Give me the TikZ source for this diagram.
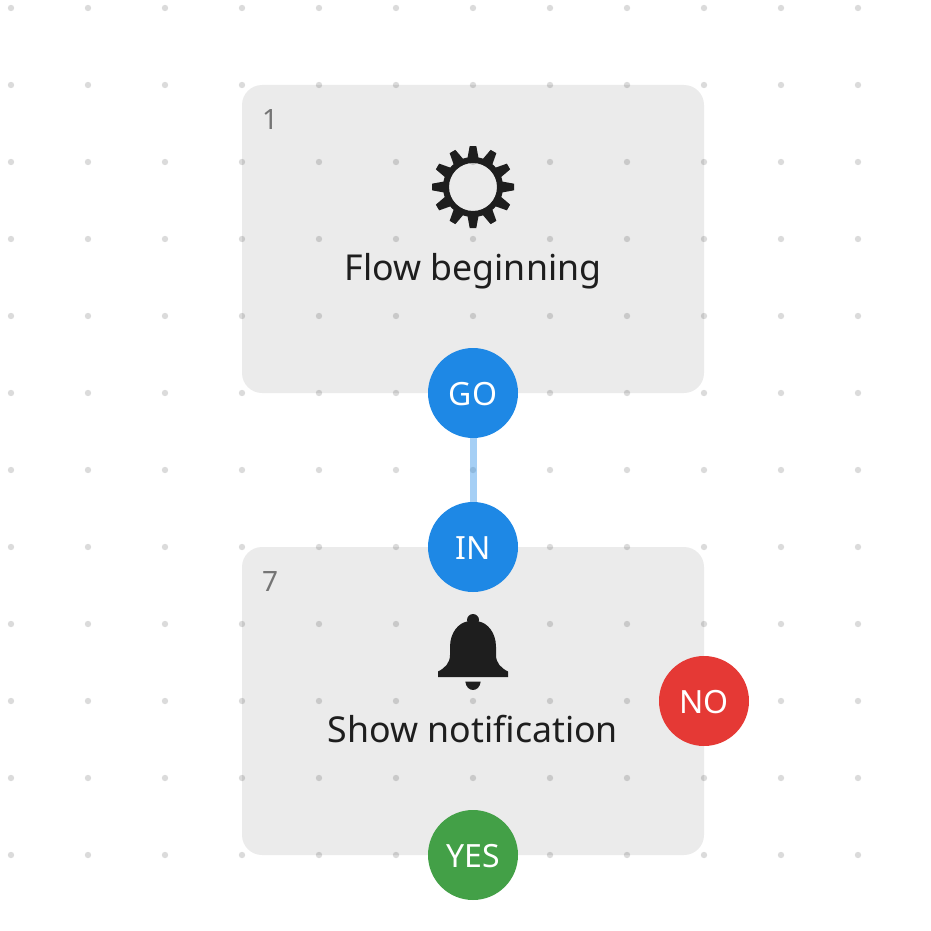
\documentclass[tikz,border=0pt]{standalone}
\usepackage{fontspec}
\setmainfont{Noto Sans}
\definecolor{cardgray}{HTML}{EBEBEB}
\definecolor{inkdark}{HTML}{1E1E1E}
\definecolor{numgray}{HTML}{757575}
\definecolor{portblue}{HTML}{1E88E5}
\definecolor{portred}{HTML}{E53935}
\definecolor{portgreen}{HTML}{43A047}
\tikzset{
  card/.style = {fill = cardgray, rounded corners = 20pt, minimum width = 462pt,
    minimum height = 308pt, inner sep = 0pt},
  griddot/.style = {fill = black, opacity = .14},
  port/.style = {circle, minimum size = 90pt, inner sep = 0pt},
  portlabel/.style = {anchor = base, text = white, inner sep = 0pt,
    font = \fontsize{32}{36}\selectfont},
  title/.style = {anchor = base, text = inkdark, inner sep = 0pt,
    font = \fontsize{35.7}{40}\selectfont},
  number/.style = {anchor = base west, text = numgray, inner sep = 0pt,
    font = \fontsize{28}{32}\selectfont},
  wire/.style = {line width = 7pt, portblue, opacity = .4},
}
\def\drawgear#1#2{%
  \begin{scope}[shift = {(#1,#2)}]
    \fill [inkdark, even odd rule] (0,0) circle (24) (0,0) circle (30);
    \foreach \ang in {0,30,...,330} {
      \fill [inkdark, rotate = \ang] (-5.5,-29) -- (-3.3,-41) -- (3.3,-41) -- (5.5,-29) -- cycle;
    }
  \end{scope}
}
\def\drawbell#1#2{%
  \begin{scope}[shift = {(#1,#2)}]
    \fill [inkdark] (0,-57) circle (6);
    \fill [inkdark]
      (-35,0) -- (-35,-5.5) .. controls (-28,-9) and (-23,-14) .. (-23,-22)
      -- (-23,-30) .. controls (-23,-45) and (-14,-54) .. (-6,-55.5)
      -- (6,-55.5) .. controls (14,-54) and (23,-45) .. (23,-30)
      -- (23,-22) .. controls (23,-14) and (28,-9) .. (35,-5.5) -- (35,0) -- cycle;
    \fill [inkdark] (-7.7,4.5) -- (7.7,4.5) .. controls (6.5,15.8) and (-6.5,15.8) .. (-7.7,4.5) -- cycle;
  \end{scope}
}
\begin{document}
\begin{tikzpicture}[x = 1pt, y = -1pt]
  \useasboundingbox (0,0) rectangle (930,931);

  % flow blocks
  \node [card] (beginCard) at (473,239) {};
  \node [card] (notifyCard) at (473,701) {};

  % background grid
  \foreach \ix in {0,...,11} {
    \foreach \iy in {0,...,11} {
      \fill [griddot] ({11+77*\ix},{8+77*\iy}) circle (3.2);
    }
  }

  \drawgear{473}{187}
  \drawbell{473}{677}

  \node [title] (beginTitle) at (473,280) {Flow beginning};
  \node [title] (notifyTitle) at (473,742) {Show notification};
  \node [number] (beginNum) at (262,129) {1};
  \node [number] (notifyNum) at (262,591) {7};

  % ports
  \node [port, fill = portblue] (go) at (473,393) {};
  \node [port, fill = portblue] (in) at (473,547) {};
  \node [port, fill = portred] (no) at (704,701) {};
  \node [port, fill = portgreen] (yes) at (473,855) {};
  \node [portlabel] (goLabel) at (473,405) {GO};
  \node [portlabel] (inLabel) at (473,559) {IN};
  \node [portlabel] (noLabel) at (704,713) {NO};
  \node [portlabel] (yesLabel) at (473,867) {YES};

  \draw [wire] (go) -- (in);
\end{tikzpicture}
\end{document}
